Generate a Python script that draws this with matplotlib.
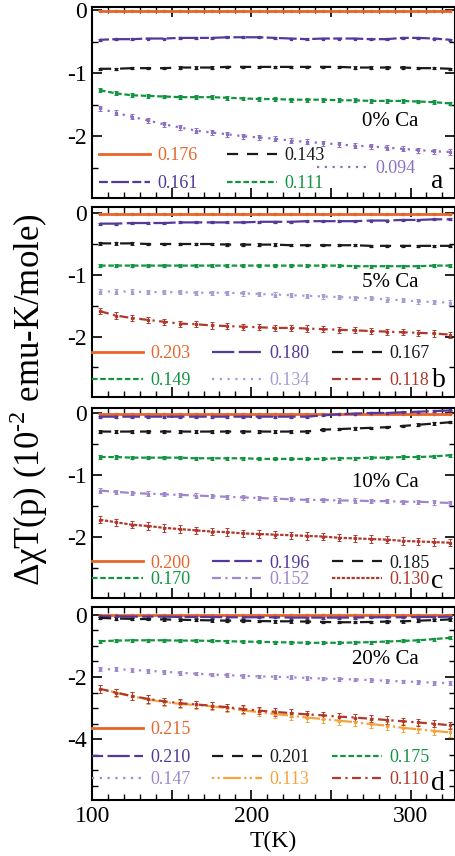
#!/usr/bin/env python3
"""Delta chi T(p) vs temperature for four Ca dopings (stacked panels a-d)."""

import numpy as np
import matplotlib
matplotlib.use("Agg")
import matplotlib.pyplot as plt
from matplotlib.lines import Line2D
from matplotlib.ticker import MultipleLocator, FuncFormatter

plt.rcParams["font.family"] = ["Liberation Serif", "DejaVu Serif"]
plt.rcParams["mathtext.fontset"] = "custom"
plt.rcParams["mathtext.rm"] = "Liberation Serif"
plt.rcParams["axes.unicode_minus"] = False

# temperature grid (K)
T = [105, 115, 125, 135, 145, 155, 165, 175, 185, 195, 205, 215,
     225, 235, 245, 255, 265, 275, 285, 295, 305, 315, 325]

# ---- panel a : 0% Ca ----
a_labels = ["0.176", "0.161", "0.143", "0.111", "0.094"]
a_176 = [-0.01, -0.01, -0.01, -0.01, -0.01, -0.01, -0.01, -0.01, -0.01, -0.01, -0.01, -0.01,
         -0.01, -0.01, -0.01, -0.01, -0.01, -0.01, -0.01, -0.01, -0.01, -0.01, -0.01]
a_161 = [-0.47, -0.46, -0.46, -0.45, -0.45, -0.44, -0.44, -0.44, -0.43, -0.43, -0.43, -0.44,
         -0.45, -0.46, -0.45, -0.45, -0.45, -0.46, -0.46, -0.44, -0.44, -0.45, -0.47]
a_143 = [-0.93, -0.93, -0.92, -0.92, -0.92, -0.91, -0.91, -0.91, -0.90, -0.90, -0.90, -0.90,
         -0.90, -0.90, -0.90, -0.90, -0.91, -0.91, -0.91, -0.91, -0.92, -0.92, -0.93]
a_111 = [-1.27, -1.32, -1.35, -1.36, -1.37, -1.38, -1.38, -1.38, -1.39, -1.40, -1.41, -1.41,
         -1.42, -1.42, -1.42, -1.43, -1.43, -1.44, -1.44, -1.44, -1.45, -1.46, -1.48]
a_094 = [-1.56, -1.63, -1.69, -1.75, -1.81, -1.86, -1.91, -1.94, -1.97, -2.00, -2.02, -2.04,
         -2.07, -2.09, -2.11, -2.13, -2.15, -2.16, -2.18, -2.20, -2.22, -2.24, -2.25]
a_err = [0.01, 0.015, 0.02, 0.03, 0.04]

# ---- panel b : 5% Ca ----
b_labels = ["0.203", "0.180", "0.167", "0.149", "0.134", "0.118"]
b_203 = [-0.01, -0.01, -0.01, -0.01, -0.01, -0.01, -0.01, -0.01, -0.01, -0.01, -0.01, -0.01,
         -0.01, -0.01, -0.01, -0.01, -0.01, -0.01, -0.01, -0.01, -0.01, -0.01, -0.01]
b_180 = [-0.17, -0.17, -0.16, -0.16, -0.16, -0.15, -0.15, -0.15, -0.15, -0.15, -0.14, -0.14,
         -0.14, -0.13, -0.13, -0.13, -0.13, -0.12, -0.12, -0.11, -0.11, -0.10, -0.10]
b_167 = [-0.49, -0.49, -0.49, -0.50, -0.50, -0.50, -0.50, -0.50, -0.51, -0.51, -0.51, -0.51,
         -0.52, -0.52, -0.52, -0.52, -0.52, -0.53, -0.53, -0.53, -0.53, -0.53, -0.53]
b_149 = [-0.85, -0.85, -0.85, -0.85, -0.85, -0.85, -0.85, -0.85, -0.85, -0.85, -0.85, -0.85,
         -0.85, -0.85, -0.85, -0.85, -0.86, -0.86, -0.86, -0.86, -0.86, -0.85, -0.85]
b_134 = [-1.27, -1.27, -1.27, -1.28, -1.28, -1.28, -1.29, -1.29, -1.29, -1.30, -1.31, -1.32,
         -1.33, -1.34, -1.35, -1.36, -1.37, -1.38, -1.40, -1.41, -1.43, -1.44, -1.45]
b_118 = [-1.59, -1.66, -1.70, -1.73, -1.76, -1.79, -1.80, -1.82, -1.83, -1.84, -1.85, -1.86,
         -1.86, -1.87, -1.88, -1.89, -1.90, -1.91, -1.92, -1.93, -1.94, -1.95, -1.97]
b_err = [0.01, 0.015, 0.02, 0.025, 0.035, 0.05]

# ---- panel c : 10% Ca ----
c_labels = ["0.200", "0.196", "0.185", "0.170", "0.152", "0.130"]
c_200 = [-0.01, -0.01, -0.01, -0.01, -0.01, -0.01, -0.01, -0.01, -0.01, -0.01, -0.01, -0.01,
         -0.01, -0.01, -0.01, -0.01, -0.01, -0.01, -0.01, -0.01, -0.01, -0.01, -0.01]
c_196 = [-0.06, -0.06, -0.06, -0.06, -0.06, -0.06, -0.06, -0.06, -0.06, -0.06, -0.06, -0.06,
         -0.06, -0.06, -0.04, -0.02, -0.01, 0.00, 0.00, 0.01, 0.02, 0.03, 0.04]
c_185 = [-0.30, -0.30, -0.30, -0.30, -0.30, -0.30, -0.30, -0.30, -0.30, -0.30, -0.30, -0.30,
         -0.30, -0.30, -0.27, -0.26, -0.25, -0.24, -0.23, -0.21, -0.19, -0.17, -0.15]
c_170 = [-0.71, -0.71, -0.72, -0.72, -0.72, -0.72, -0.73, -0.73, -0.73, -0.73, -0.74, -0.74,
         -0.74, -0.74, -0.74, -0.73, -0.73, -0.72, -0.72, -0.71, -0.71, -0.70, -0.68]
c_152 = [-1.25, -1.27, -1.29, -1.30, -1.31, -1.32, -1.33, -1.34, -1.35, -1.36, -1.37, -1.38,
         -1.39, -1.40, -1.40, -1.41, -1.41, -1.42, -1.42, -1.43, -1.43, -1.44, -1.45]
c_130 = [-1.72, -1.76, -1.80, -1.82, -1.85, -1.87, -1.89, -1.91, -1.92, -1.94, -1.95, -1.96,
         -1.97, -1.98, -1.99, -2.01, -2.02, -2.03, -2.04, -2.06, -2.07, -2.08, -2.09]
c_err = [0.01, 0.015, 0.02, 0.025, 0.035, 0.06]

# ---- panel d : 20% Ca ----
d_labels = ["0.215", "0.210", "0.201", "0.175", "0.147", "0.113", "0.110"]
d_215 = [-0.02, -0.02, -0.02, -0.02, -0.02, -0.02, -0.02, -0.02, -0.02, -0.02, -0.02, -0.02,
         -0.02, -0.02, -0.02, -0.02, -0.02, -0.02, -0.02, -0.02, -0.02, -0.02, -0.02]
d_210 = [-0.05, -0.05, -0.06, -0.06, -0.06, -0.07, -0.07, -0.07, -0.08, -0.08, -0.08, -0.08,
         -0.09, -0.09, -0.09, -0.09, -0.09, -0.08, -0.08, -0.08, -0.07, -0.07, -0.06]
d_201 = [-0.10, -0.12, -0.13, -0.14, -0.15, -0.16, -0.17, -0.18, -0.19, -0.19, -0.20, -0.21,
         -0.21, -0.22, -0.23, -0.24, -0.24, -0.23, -0.22, -0.21, -0.19, -0.17, -0.15]
d_175 = [-0.85, -0.83, -0.82, -0.82, -0.82, -0.83, -0.83, -0.84, -0.85, -0.86, -0.87, -0.88,
         -0.89, -0.90, -0.90, -0.90, -0.89, -0.88, -0.86, -0.84, -0.82, -0.78, -0.74]
d_147 = [-1.75, -1.75, -1.77, -1.80, -1.83, -1.86, -1.89, -1.92, -1.94, -1.96, -1.98, -1.99,
         -2.01, -2.03, -2.05, -2.06, -2.08, -2.10, -2.12, -2.14, -2.16, -2.18, -2.20]
d_113 = [-2.38, -2.50, -2.62, -2.72, -2.80, -2.86, -2.90, -2.94, -3.00, -3.07, -3.13, -3.19,
         -3.24, -3.30, -3.35, -3.40, -3.45, -3.51, -3.56, -3.63, -3.68, -3.73, -3.78]
d_110 = [-2.38, -2.50, -2.61, -2.70, -2.78, -2.84, -2.88, -2.92, -2.97, -3.03, -3.08, -3.12,
         -3.16, -3.20, -3.23, -3.27, -3.30, -3.34, -3.38, -3.42, -3.46, -3.50, -3.55]
d_err = [0.02, 0.03, 0.04, 0.05, 0.06, 0.13, 0.12]

# colours / dash patterns
ORANGE, PURPLE, BLACK, GREEN = "#e8652a", "#54389a", "#1a1a1a", "#129440"
RED, LORANGE = "#b0392b", "#f4a43c"
a_style = [(ORANGE, "-"), (PURPLE, (0, (4, 1.5, 8, 1.5))), (BLACK, (0, (5, 4))),
           (GREEN, (0, (2.5, 1.2))), ("#8c6ec2", (0, (1, 2.5)))]
b_style = [(ORANGE, "-"), (PURPLE, (0, (10, 2))), (BLACK, (0, (5, 4))),
           (GREEN, (0, (2.5, 1.2))), ("#a99bd4", (0, (1, 2.5))), (RED, (0, (4, 2, 1, 2)))]
c_style = [(ORANGE, "-"), (PURPLE, (0, (8, 2))), (BLACK, (0, (5, 4))),
           (GREEN, (0, (2.5, 1.2))), ("#a086cc", (0, (4, 2, 1, 2))), (RED, (0, (1.5, 0.7)))]
d_style = [(ORANGE, "-"), (PURPLE, (0, (5, 2, 10, 2))), (BLACK, (0, (5, 4))),
           (GREEN, (0, (2.5, 1.2))), ("#a088cc", (0, (1, 2.5))),
           (LORANGE, (0, (1, 1.5, 1, 1.5, 8, 1.5))), (RED, (0, (4, 2, 1, 2)))]

fig = plt.figure(figsize=(4.56, 8.56), dpi=100)
left, right = 0.202, 0.998
boxes = [(0.7687, 0.9918), (0.5362, 0.7582), (0.3014, 0.5234), (0.0654, 0.2909)]
axes = [fig.add_axes([left, b, right - left, t - b]) for b, t in boxes]

panels = [
    (a_labels, [a_176, a_161, a_143, a_111, a_094], a_err, a_style, (-2.98, 0.05), "0% Ca", "a", 0.40),
    (b_labels, [b_203, b_180, b_167, b_149, b_134, b_118], b_err, b_style, (-2.98, 0.1), "5% Ca", "b", 0.60),
    (c_labels, [c_200, c_196, c_185, c_170, c_152, c_130], c_err, c_style, (-2.98, 0.08), "10% Ca", "c", 0.61),
    (d_labels, [d_215, d_210, d_201, d_175, d_147, d_113, d_110], d_err, d_style, (-5.95, 0.25), "20% Ca", "d", 0.73),
]

handles_all = []
for ax, (labels, series, errs, styles, ylim, tag, letter, tag_y) in zip(axes, panels):
    hs = {}
    for lab, y, e, (col, ls) in zip(labels, series, errs, styles):
        lw = 2.0 if ls == "-" else 1.6
        ax.errorbar(T, y, yerr=e, color=col, ls=ls, lw=lw, marker="s", ms=1.4,
                    elinewidth=0.7, capsize=1.6, capthick=0.7)
        hs[lab] = Line2D([], [], color=col, ls=ls, lw=lw)
    handles_all.append(hs)
    ax.set_xlim(100, 328)
    ax.set_ylim(*ylim)
    ax.xaxis.set_major_locator(MultipleLocator(50))
    ax.xaxis.set_minor_locator(MultipleLocator(10))
    ax.yaxis.set_major_locator(MultipleLocator(2 if letter == "d" else 1))
    ax.yaxis.set_minor_locator(MultipleLocator(0.5))
    ax.yaxis.set_major_formatter(FuncFormatter(lambda v, p: f"{v:.0f}"))
    ax.tick_params(which="both", direction="in", top=True, right=True, labelsize=17, pad=4)
    ax.tick_params(which="major", length=7, width=1.2)
    ax.tick_params(which="minor", length=4, width=1.0)
    for s in ax.spines.values():
        s.set_linewidth(1.5)
    ax.text(0.90, tag_y, tag, transform=ax.transAxes, ha="right", va="center", fontsize=15)
    ax.text(0.935, 0.02, letter, transform=ax.transAxes, ha="left", va="bottom", fontsize=20)
    if letter == "d":
        ax.xaxis.set_major_formatter(FuncFormatter(lambda v, p: f"{v:.0f}" if v % 100 == 0 else ""))
        ax.set_xlabel("T(K)", fontsize=17, labelpad=3)
    else:
        ax.tick_params(labelbottom=False)

leg_kw = dict(frameon=False, labelcolor="linecolor", prop={"size": 13}, borderpad=0,
              borderaxespad=0, handletextpad=0.4, loc="lower left")

# panel a
ha = handles_all[0]
order = ["0.176", "0.161", "0.143", "0.111"]
l1 = axes[0].legend([ha[k] for k in order], order, ncol=2, handlelength=2.8,
                    columnspacing=1.6, labelspacing=0.6,
                    bbox_to_anchor=(0.02, 0.03), **leg_kw)
axes[0].add_artist(l1)
axes[0].legend([ha["0.094"]], ["0.094"], handlelength=2.8,
               bbox_to_anchor=(0.62, 0.11), **leg_kw)

# panels b, c
for ax, hs, labs, lsp, y0 in [(axes[1], handles_all[1], b_labels, 0.55, 0.04),
                             (axes[2], handles_all[2], c_labels, 0.0, 0.05)]:
    order = [labs[0], labs[3], labs[1], labs[4], labs[2], labs[5]]
    ax.legend([hs[k] for k in order], order, ncol=3, handlelength=2.8,
              columnspacing=1.2, labelspacing=lsp, bbox_to_anchor=(0.0, y0), **leg_kw)

# panel d
hd = handles_all[3]
l1 = axes[3].legend([hd["0.215"]], ["0.215"], handlelength=2.8,
                    bbox_to_anchor=(0.0, 0.32), **leg_kw)
axes[3].add_artist(l1)
order = ["0.210", "0.147", "0.201", "0.113", "0.175", "0.110"]
axes[3].legend([hd[k] for k in order], order, ncol=3, handlelength=2.8,
               columnspacing=1.2, labelspacing=0.3, bbox_to_anchor=(0.0, 0.06), **leg_kw)

fig.text(0.062, 0.533, "ΔχT(p) (10$^{\\mathrm{\u2010}2}$ emu-K/mole)", rotation=90,
         ha="center", va="center", fontsize=25)

fig.savefig("out.png", dpi=100)
